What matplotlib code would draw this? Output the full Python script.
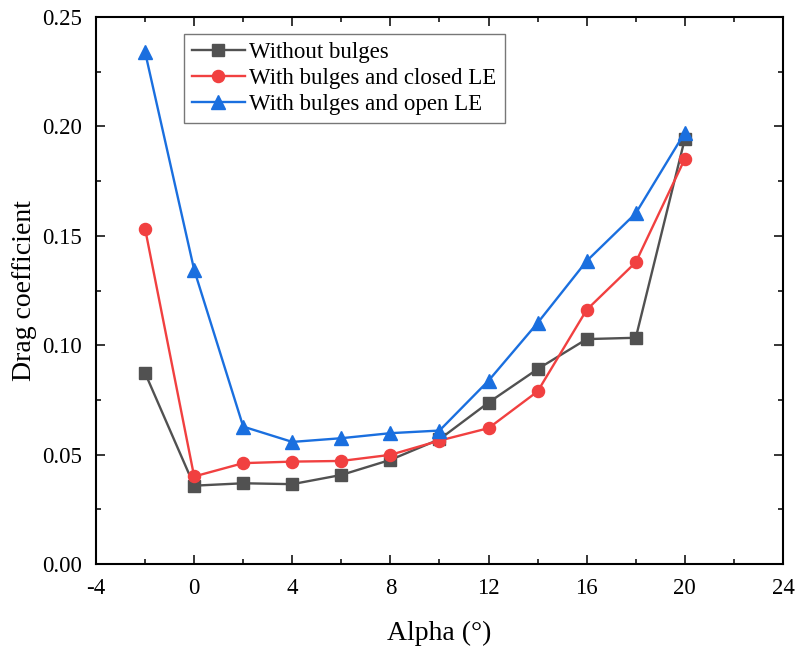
import matplotlib
matplotlib.use('Agg')
import matplotlib.pyplot as plt
from matplotlib.ticker import MultipleLocator

plt.rcParams['font.family'] = ['Liberation Serif', 'DejaVu Serif']
plt.rcParams['axes.unicode_minus'] = False

# ── dados ────────────────────────────────────────────────────────────────
alpha = [-2, 0, 2, 4, 6, 8, 10, 12, 14, 16, 18, 20]
cd_sem = [0.0873, 0.0358, 0.0369, 0.0365, 0.0407, 0.0476, 0.0570,
          0.0738, 0.0891, 0.1028, 0.1034, 0.1944]
cd_fechado = [0.1533, 0.0400, 0.0461, 0.0468, 0.0471, 0.0499, 0.0564,
              0.0621, 0.0789, 0.1162, 0.1379, 0.1852]
cd_aberto = [0.2340, 0.1345, 0.0628, 0.0558, 0.0575, 0.0598, 0.0610,
             0.0838, 0.1102, 0.1385, 0.1603, 0.1972]

labels = ['Without bulges', 'With bulges and closed LE',
          'With bulges and open LE']
cores = ['#515151', '#F14040', '#1A6FDF']

fig = plt.figure(figsize=(8.02, 6.5), dpi=100)
ax = fig.add_axes([0.1197, 0.1323, 0.8566, 0.8415])

ax.plot(alpha, cd_sem, '-s', color=cores[0], lw=1.7, ms=8, label=labels[0])
ax.plot(alpha, cd_fechado, '-o', color=cores[1], lw=1.7, ms=8.7, label=labels[1])
ax.plot(alpha, cd_aberto, '-^', color=cores[2], lw=1.7, ms=10.5, label=labels[2])

ax.set_xlim(-4, 24)
ax.set_ylim(0, 0.25)
ax.xaxis.set_major_locator(MultipleLocator(4))
ax.xaxis.set_minor_locator(MultipleLocator(2))
ax.yaxis.set_major_locator(MultipleLocator(0.05))
ax.yaxis.set_minor_locator(MultipleLocator(0.025))
ax.yaxis.set_major_formatter(plt.FuncFormatter(lambda v, p: f'{v:.2f}'))
ax.tick_params(which='both', direction='in', top=True, right=True,
               labelsize=16.5, width=1.1)
ax.tick_params(which='major', length=6.5)
ax.tick_params(which='minor', length=3.5)
ax.tick_params(axis='x', which='major', pad=10)
ax.tick_params(axis='y', which='major', pad=10)
for s in ax.spines.values():
    s.set_linewidth(1.5)

ax.set_xlabel('Alpha (°)', fontsize=20, labelpad=16)
ax.set_ylabel('Drag coefficient', fontsize=20, labelpad=4)

leg = ax.legend(loc='upper left', bbox_to_anchor=(0.128, 0.969),
                borderaxespad=0, fontsize=16.5, frameon=True, fancybox=False,
                handlelength=2.3, handletextpad=0.2, labelspacing=0.22,
                borderpad=0.35)
leg.get_frame().set_edgecolor('#555555')
leg.get_frame().set_linewidth(1.0)

plt.savefig('out.png', dpi=100)
plt.close()
